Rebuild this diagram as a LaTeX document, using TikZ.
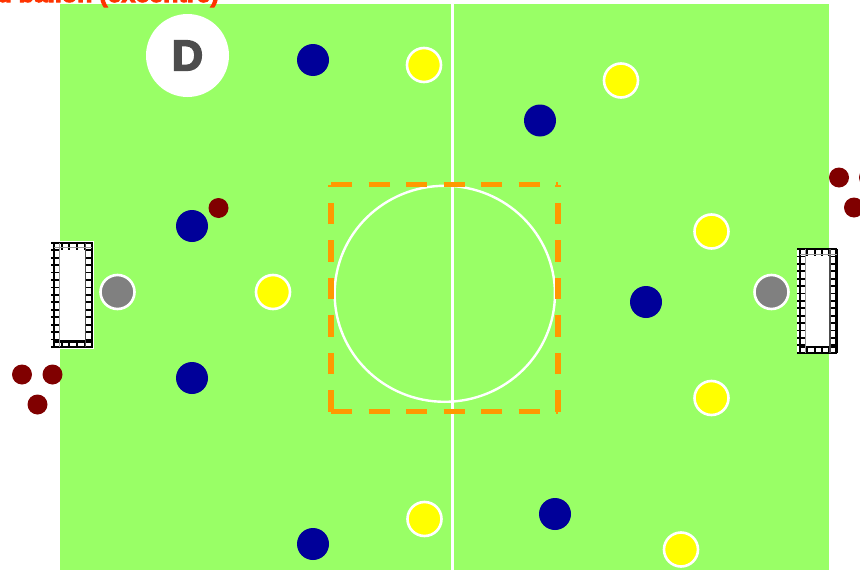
\documentclass[tikz,border=0pt]{standalone}
\usepackage{fontspec}
\setmainfont{Liberation Sans}
\newfontfamily\heavy[BoldFeatures={FakeBold=4}]{Liberation Sans}
\usetikzlibrary{shapes.geometric}
\definecolor{pitch}{HTML}{99FF66}
\definecolor{dred}{HTML}{800000}
\definecolor{navyb}{HTML}{000099}
\definecolor{ttl}{HTML}{FF3300}
\definecolor{dorange}{HTML}{FF9900}
\definecolor{dgray}{HTML}{4D4D4D}
\definecolor{yel}{HTML}{FFFF00}
\definecolor{grayp}{HTML}{808080}
\tikzset{x=1pt,y=-1pt,
 pl/.style={circle,inner sep=0pt,minimum size=#1,outer sep=0pt},
 blueP/.style={pl=32pt,fill=navyb},
 yellowP/.style={pl=34pt,fill=yel,draw=white,line width=2.6pt},
 grayP/.style={pl=34pt,fill=grayp,draw=white,line width=2.6pt},
 redP/.style={pl=20pt,fill=dred},
 netthick/.style={draw=black,line width=2.2pt},
 netmid/.style={draw=black!70,line width=1.3pt},
 netthin/.style={draw=black!40,line width=.8pt},
 boxdash/.style={dorange,line width=5.2pt,dash pattern=on 21.3pt off 16.2pt}
}
\newcommand{\goalnet}[4]{%
 \fill[white] (#1-3,#2-1.5) rectangle (#3+1.5,#4+1.5);
 \foreach \yy in {0,...,14} {
  \draw[netthick,line width=1.8pt] (#1-3,{#2+\yy*(#4-#2)/14}) -- (#1+5,{#2+\yy*(#4-#2)/14});
  \draw[netthick,line width=1.8pt] (#3-6.5,{#2+\yy*(#4-#2)/14}) -- (#3+.5,{#2+\yy*(#4-#2)/14});
 }
 \foreach \xx in {0,...,5} {
  \draw[netthick,line width=1.8pt] ({#1+\xx*(#3-#1)/5},#2-1) -- ({#1+\xx*(#3-#1)/5},#2+7);
  \draw[netthick,line width=1.8pt] ({#1+\xx*(#3-#1)/5},#4-7) -- ({#1+\xx*(#3-#1)/5},#4+1);
 }
 \draw[netthick] (#1,#2) -- (#3,#2);
 \draw[netthick] (#1,#4) -- (#3,#4);
 \draw[netthick] (#1,#4-5.5) -- (#3,#4-5.5);
 \draw[netthick] (#1,#2) -- (#1,#4);
 \draw[netthick] (#3,#2) -- (#3,#4);
 \draw[netmid] (#3-6.5,#2) -- (#3-6.5,#4);
 \draw[netthin] (#1+5,#2) -- (#1+5,#4);
 \draw[netthin] (#1,#2+5) -- (#3,#2+5);
}
\begin{document}
\begin{tikzpicture}
\useasboundingbox (0,0) rectangle (860,570);
\begin{scope}
\clip (0,0) rectangle (860,570);
\fill[pitch] (60,4) rectangle (828.5,570);
\node[anchor=base east,text=ttl,font=\heavy\bfseries\fontsize{25}{28}\selectfont,inner sep=0pt] (title) at (219,2) {nd ballon (excentré)};
\draw[white,line width=2.7pt] (452.5,4) -- (452.5,570);
\node[ellipse,draw=white,line width=2.4pt,minimum width=220.3pt,minimum height=216pt,inner sep=0pt] (cc) at (444.8,293.8) {};
\draw[boxdash] (331,184.5) -- (558,184.5);
\draw[boxdash] (331,411.5) -- (558,411.5);
\draw[boxdash] (331,411.5) -- (331,184.5);
\draw[boxdash] (558,411.5) -- (558,184.5);
\node[circle,fill=white,minimum size=83pt,inner sep=0pt,font=\heavy\bfseries\fontsize{43}{43}\selectfont,text=dgray] (d) at (187.5,55.5) {D};
\goalnet{54.3}{242.8}{92}{347}
\goalnet{800}{249}{836.5}{352.8}
\node[grayP] (gk1) at (117.5,292) {};
\node[grayP] (gk2) at (771.5,292) {};
\node[blueP] (b1) at (313,60) {};
\node[blueP] (b2) at (192,226) {};
\node[blueP] (b3) at (192,378) {};
\node[blueP] (b4) at (313,544) {};
\node[blueP] (b5) at (540,120.5) {};
\node[blueP] (b6) at (646,302) {};
\node[blueP] (b7) at (555,514) {};
\node[yellowP] (y1) at (424,65) {};
\node[yellowP] (y2) at (273,292) {};
\node[yellowP] (y3) at (424.5,519) {};
\node[yellowP] (y4) at (621,80.5) {};
\node[yellowP] (y5) at (711.5,231.5) {};
\node[yellowP] (y6) at (711.5,398) {};
\node[yellowP] (y7) at (681,549.5) {};
\node[redP] (r1) at (218.5,208) {};
\node[redP] (r2) at (22,374.5) {};
\node[redP] (r3) at (52.5,374.5) {};
\node[redP] (r4) at (37.5,404.5) {};
\node[redP] (r5) at (839,177.5) {};
\node[redP] (r6) at (869,177.5) {};
\node[redP] (r7) at (854,207.5) {};
\end{scope}
\end{tikzpicture}
\end{document}
